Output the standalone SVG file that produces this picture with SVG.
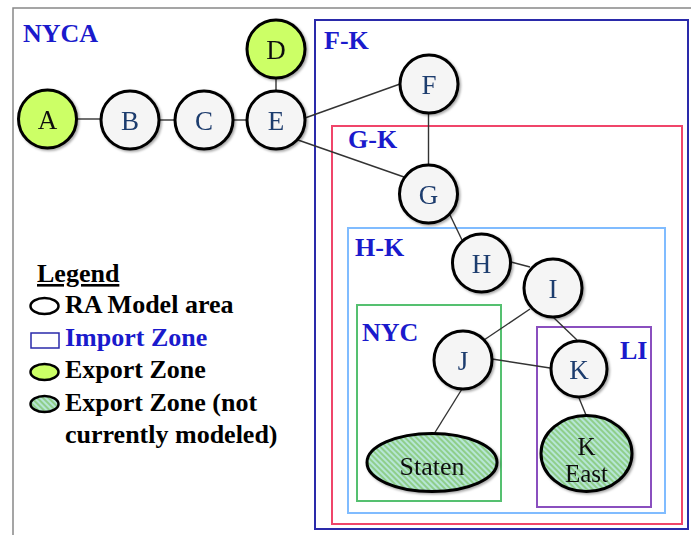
<svg xmlns="http://www.w3.org/2000/svg" width="691" height="535" viewBox="0 0 691 535">
<style>
.node{fill:#f5f5f5;stroke:#000;stroke-width:3}
.exp{fill:#ccff66;stroke:#000;stroke-width:3}
.hat{fill:url(#hatch);stroke:#000;stroke-width:3}
.lbl{font-family:"Liberation Serif",serif;font-size:27px;fill:#1f3d6e;text-anchor:middle}
.blk{font-family:"Liberation Serif",serif;font-size:25px;fill:#111;text-anchor:middle}
.zone{font-family:"Liberation Serif",serif;font-size:26px;font-weight:bold;fill:#1a1acc}
.leg{font-family:"Liberation Serif",serif;font-size:26px;font-weight:bold;fill:#000}
.edge{stroke:#333;stroke-width:1.4;fill:none}
</style>
<defs>
<pattern id="hatch" width="4" height="4" patternUnits="userSpaceOnUse" patternTransform="rotate(-45)">
<rect width="4" height="4" fill="#b6e6d6"/>
<rect width="2" height="4" fill="#8fce8a"/>
</pattern>
<filter id="sh" x="-20%" y="-20%" width="150%" height="150%">
<feDropShadow dx="1.5" dy="1.5" stdDeviation="1.2" flood-color="#000" flood-opacity="0.35"/>
</filter>
</defs>
<rect width="691" height="535" fill="#fff"/>
<path d="M13 535 V8 H691" fill="none" stroke="#888" stroke-width="1.5"/>
<g id="zones">
<rect x="315" y="20" width="373" height="509" fill="none" stroke="#2a2aaa" stroke-width="2"/>
<rect x="332" y="126" width="350" height="398" fill="none" stroke="#f0456a" stroke-width="2"/>
<rect x="348" y="228" width="317" height="285" fill="none" stroke="#80bcff" stroke-width="2"/>
<rect x="357" y="305" width="144" height="196" fill="none" stroke="#55c070" stroke-width="2"/>
<rect x="537" y="327" width="114" height="180" fill="none" stroke="#8a4fbf" stroke-width="2"/>
<text class="zone" x="23" y="42">NYCA</text>
<text class="zone" x="324" y="49">F-K</text>
<text class="zone" x="348" y="148">G-K</text>
<text class="zone" x="355" y="256">H-K</text>
<text class="zone" x="362" y="341">NYC</text>
<text class="zone" x="620" y="359">LI</text>
</g>
<g id="connectors">
<line class="edge" x1="77" y1="119" x2="100" y2="119"/>
<line class="edge" x1="159" y1="120" x2="175" y2="120"/>
<line class="edge" x1="233" y1="120" x2="246" y2="120"/>
<line class="edge" x1="276" y1="78" x2="276" y2="91"/>
<line class="edge" x1="305" y1="118" x2="400" y2="84"/>
<line class="edge" x1="298" y1="140" x2="404" y2="177"/>
<line class="edge" x1="428.5" y1="113" x2="428.5" y2="165"/>
<line class="edge" x1="450" y1="215" x2="462" y2="240"/>
<line class="edge" x1="511" y1="262" x2="530" y2="267"/>
<line class="edge" x1="530" y1="309" x2="484" y2="340"/>
<line class="edge" x1="553" y1="317" x2="577" y2="340"/>
<line class="edge" x1="492" y1="359" x2="550" y2="368"/>
<line class="edge" x1="462" y1="389" x2="434" y2="434"/>
<line class="edge" x1="579" y1="398" x2="586" y2="415"/>
</g>
<g id="A" filter="url(#sh)"><circle class="exp" cx="47.5" cy="119" r="29"/><text class="blk" style="font-size:27px" x="47.5" y="128.5">A</text></g>
<g id="B" filter="url(#sh)"><circle class="node" cx="130" cy="120" r="29"/><text class="lbl" x="130" y="129.5">B</text></g>
<g id="C" filter="url(#sh)"><circle class="node" cx="204" cy="120" r="29"/><text class="lbl" x="204" y="129.5">C</text></g>
<g id="D" filter="url(#sh)"><circle class="exp" cx="276" cy="49" r="29"/><text class="blk" style="font-size:27px" x="276" y="58.5">D</text></g>
<g id="E" filter="url(#sh)"><circle class="node" cx="276" cy="120" r="29"/><text class="lbl" x="276" y="129.5">E</text></g>
<g id="F" filter="url(#sh)"><circle class="node" cx="429" cy="84" r="29"/><text class="lbl" x="429" y="93.5">F</text></g>
<g id="G" filter="url(#sh)"><circle class="node" cx="428.5" cy="194" r="29"/><text class="lbl" x="428.5" y="203.5">G</text></g>
<g id="H" filter="url(#sh)"><circle class="node" cx="481.5" cy="263" r="29"/><text class="lbl" x="481.5" y="272.5">H</text></g>
<g id="I" filter="url(#sh)"><circle class="node" cx="553" cy="288" r="29"/><text class="lbl" x="553" y="297.5">I</text></g>
<g id="J" filter="url(#sh)"><circle class="node" cx="463" cy="360" r="29"/><text class="lbl" x="463" y="369.5">J</text></g>
<g id="K" filter="url(#sh)"><circle class="node" cx="579" cy="369" r="28"/><text class="lbl" x="579" y="378.5">K</text></g>
<g id="Staten" filter="url(#sh)"><ellipse class="hat" cx="432" cy="462.5" rx="65" ry="29"/><text class="blk" style="font-size:26px" x="432" y="475">Staten</text></g>
<g id="KEast" filter="url(#sh)"><ellipse class="hat" cx="586.5" cy="453.5" rx="45.5" ry="38"/><text class="blk" x="586.5" y="455">K</text><text class="blk" x="586.5" y="482">East</text></g>
<g id="legend">
<text class="leg" x="37" y="282" text-decoration="underline">Legend</text>
<ellipse cx="44.5" cy="306" rx="14" ry="8" fill="#fff" stroke="#000" stroke-width="2.5"/>
<text class="leg" x="65" y="313">RA Model area</text>
<rect x="31" y="333" width="28" height="15" fill="#fff" stroke="#2a2aaa" stroke-width="1.5"/>
<text class="leg" x="65" y="346" style="fill:#1a1acc">Import Zone</text>
<ellipse cx="44.5" cy="372" rx="14" ry="8" fill="#ccff66" stroke="#000" stroke-width="2.5"/>
<text class="leg" x="65" y="378">Export Zone</text>
<ellipse cx="44.5" cy="404" rx="14" ry="8" fill="url(#hatch)" stroke="#000" stroke-width="2.5"/>
<text class="leg" x="65" y="411">Export Zone (not</text>
<text class="leg" x="65" y="443">currently modeled)</text>
</g>
</svg>
